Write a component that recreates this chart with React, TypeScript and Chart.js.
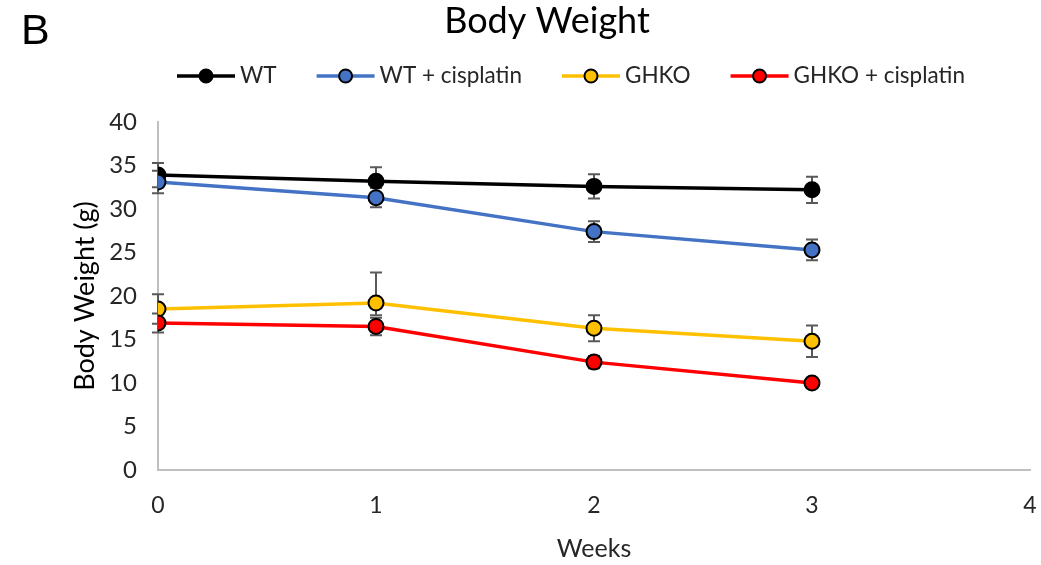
import React, { useEffect, useRef } from "react";
import { Chart, registerables } from "chart.js";

Chart.register(...registerables);

// ---- data ----
const weeks = [0, 1, 2, 3];
const seriesNames = ["WT", "WT + cisplatin", "GHKO", "GHKO + cisplatin"];
const seriesColors = ["#000000", "#4472C4", "#FFC000", "#FF0000"];
const wt = [33.9, 33.2, 32.6, 32.2];
const wtErr = [1.4, 1.6, 1.4, 1.5];
const wtCis = [33.1, 31.3, 27.4, 25.3];
const wtCisErr = [1.3, 1.1, 1.2, 1.2];
const ghko = [18.5, 19.2, 16.3, 14.8];
const ghkoErrPlus = [1.7, 3.5, 1.5, 1.8];
const ghkoErrMinus = [1.7, 1.4, 1.5, 1.8];
const ghkoCis = [16.9, 16.5, 12.4, 10.0];
const ghkoCisErr = [1.1, 1.0, 0.7, 0.4];
const yMin = 0;
const yMax = 40;
const yStep = 5;
const xMin = 0;
const xMax = 4;
const xStep = 1;
const titleText = "Body Weight";
const panelLetter = "B";
const xTitle = "Weeks";
const yTitle = "Body Weight (g)";

const seriesValues = [wt, wtCis, ghko, ghkoCis];
const errPlus = [wtErr, wtCisErr, ghkoErrPlus, ghkoCisErr];
const errMinus = [wtErr, wtCisErr, ghkoErrMinus, ghkoCisErr];

const FONT = "Lato, 'Open Sans', sans-serif";

const errorBarPlugin = {
  id: "errorBars",
  beforeDatasetsDraw(chart: any) {
    const { ctx, scales } = chart;
    const xs = scales.x;
    const ys = scales.y;
    ctx.save();
    ctx.strokeStyle = "#595959";
    ctx.lineWidth = 2;
    seriesValues.forEach((vals, i) => {
      vals.forEach((v, j) => {
        const x = xs.getPixelForValue(weeks[j]);
        const yt = ys.getPixelForValue(v + errPlus[i][j]);
        const yb = ys.getPixelForValue(v - errMinus[i][j]);
        const cap = 6;
        ctx.beginPath();
        ctx.moveTo(x, yt);
        ctx.lineTo(x, yb);
        ctx.moveTo(x - cap, yt);
        ctx.lineTo(x + cap, yt);
        ctx.moveTo(x - cap, yb);
        ctx.lineTo(x + cap, yb);
        ctx.stroke();
      });
    });
    ctx.restore();
  },
};

const decorPlugin = {
  id: "decor",
  afterDraw(chart: any) {
    const { ctx } = chart;
    ctx.save();
    // panel letter
    ctx.fillStyle = "#000";
    ctx.font = "43px 'Liberation Sans', Arial, sans-serif";
    ctx.textAlign = "left";
    ctx.textBaseline = "alphabetic";
    ctx.fillText(panelLetter, 21, 44);
    // title
    ctx.font = `36px ${FONT}`;
    ctx.textAlign = "center";
    ctx.textBaseline = "middle";
    ctx.fillText(titleText, 547, 21);
    // legend
    ctx.font = `22.5px ${FONT}`;
    ctx.textAlign = "left";
    ctx.textBaseline = "middle";
    const ly = 76;
    let x = 177;
    seriesNames.forEach((name, i) => {
      const lineW = 58;
      ctx.strokeStyle = seriesColors[i];
      ctx.lineWidth = 3.5;
      ctx.beginPath();
      ctx.moveTo(x, ly);
      ctx.lineTo(x + lineW, ly);
      ctx.stroke();
      ctx.beginPath();
      ctx.arc(x + lineW / 2, ly, 6.5, 0, Math.PI * 2);
      ctx.fillStyle = seriesColors[i];
      ctx.fill();
      ctx.lineWidth = 2;
      ctx.strokeStyle = "#000";
      ctx.stroke();
      ctx.fillStyle = "#262626";
      const tx = x + lineW + 5;
      ctx.fillText(name, tx, ly);
      x = tx + ctx.measureText(name).width + 40;
    });
    ctx.restore();
  },
};

export default function App() {
  const ref = useRef<HTMLCanvasElement | null>(null);
  useEffect(() => {
    document.body.style.margin = "0";
    const canvas = ref.current;
    if (!canvas) return;
    const datasets = seriesNames.map((name, i) => ({
      label: name,
      data: weeks.map((w, j) => ({ x: w, y: seriesValues[i][j] })),
      borderColor: seriesColors[i],
      backgroundColor: seriesColors[i],
      pointBackgroundColor: seriesColors[i],
      pointBorderColor: "#000",
      pointBorderWidth: 2,
      pointRadius: 7.5,
      borderWidth: 3.5,
      tension: 0,
      order: seriesNames.length - i,
    }));
    const chart = new Chart(canvas, {
      type: "line",
      data: { datasets },
      options: {
        animation: false,
        responsive: false,
        events: [],
        layout: { padding: { top: 122, right: 11, left: 0, bottom: 0 } },
        plugins: { legend: { display: false }, title: { display: false }, tooltip: { enabled: false } },
        scales: {
          x: {
            type: "linear",
            min: xMin,
            max: xMax,
            ticks: { stepSize: xStep, color: "#262626", font: { family: FONT, size: 23 }, padding: 14 },
            grid: { display: false },
            border: { display: true, color: "#BFBFBF", width: 2 },
            title: { display: true, text: xTitle, color: "#262626", font: { family: FONT, size: 25 }, padding: { top: 1, bottom: 1 } },
            afterFit: (s: any) => { s.height = 95; s.paddingLeft = 0; s.paddingRight = 0; },
          },
          y: {
            type: "linear",
            min: yMin,
            max: yMax,
            ticks: { stepSize: yStep, color: "#262626", font: { family: FONT, size: 24 }, padding: 13 },
            grid: { display: false },
            border: { display: true, color: "#BFBFBF", width: 2 },
            title: { display: true, text: yTitle, color: "#000", font: { family: FONT, size: 27 }, padding: { top: 69, bottom: 0 } },
            afterFit: (s: any) => { s.width = 158; s.paddingTop = 0; s.paddingBottom = 0; },
          },
        },
      },
      plugins: [errorBarPlugin, decorPlugin],
    });
    return () => chart.destroy();
  }, []);
  return <canvas ref={ref} width={1041} height={565} style={{ display: "block" }} />;
}
